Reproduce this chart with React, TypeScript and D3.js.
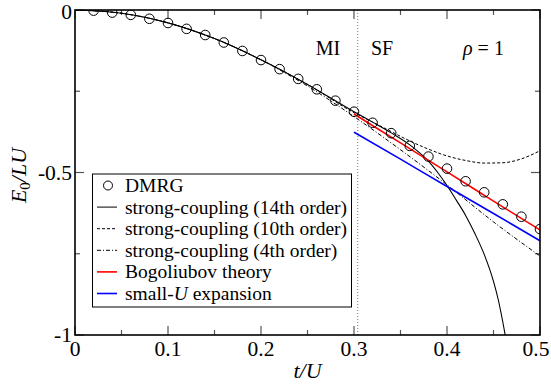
import React from "react";
import * as d3 from "d3";

// DMRG data (t/U, E0/LU)
const dmrgT = [0.02,0.04,0.06,0.08,0.10,0.12,0.14,0.16,0.18,0.20,0.22,0.24,0.26,0.28,0.30,0.32,0.34,0.36,0.38,0.40,0.42,0.44,0.46,0.48,0.50];
const dmrgE = [-0.002,-0.008,-0.015,-0.027,-0.040,-0.058,-0.077,-0.100,-0.126,-0.154,-0.182,-0.212,-0.244,-0.279,-0.313,-0.347,-0.379,-0.418,-0.451,-0.488,-0.527,-0.561,-0.598,-0.636,-0.674];

// strong-coupling 14th order
const sc14T = [0,0.05,0.10,0.15,0.20,0.25,0.30,0.32,0.34,0.36,0.37,0.38,0.39,0.40,0.41,0.42,0.43,0.44,0.45,0.455,0.46,0.465];
const sc14E = [0,-0.0099,-0.0396,-0.088,-0.153,-0.229,-0.313,-0.345,-0.378,-0.415,-0.438,-0.465,-0.5,-0.54,-0.585,-0.632,-0.688,-0.752,-0.835,-0.89,-0.96,-1.04];

// strong-coupling 10th order
const sc10T = [0,0.05,0.10,0.15,0.20,0.25,0.30,0.32,0.34,0.36,0.38,0.40,0.42,0.44,0.46,0.48,0.50];
const sc10E = [0,-0.0099,-0.0396,-0.088,-0.153,-0.229,-0.316,-0.345,-0.374,-0.403,-0.428,-0.449,-0.463,-0.471,-0.470,-0.458,-0.433];

// strong-coupling 4th order
const sc4T = [0,0.05,0.10,0.15,0.20,0.25,0.30,0.35,0.40,0.45,0.50];
const sc4E = [0,-0.0100,-0.0396,-0.088,-0.1536,-0.234,-0.328,-0.430,-0.538,-0.652,-0.757];

// Bogoliubov theory
const bogT = [0.30,0.35,0.40,0.45,0.50];
const bogE = [-0.320,-0.409,-0.498,-0.588,-0.677];

// small-U expansion
const smallUT = [0.30,0.35,0.40,0.45,0.50];
const smallUE = [-0.376,-0.459,-0.543,-0.626,-0.710];

const xTicksMajor = [0, 0.1, 0.2, 0.3, 0.4, 0.5];
const xTicksMinor = [0.05, 0.15, 0.25, 0.35, 0.45];
const yTicksMajor = [0, -0.5, -1];
const yTicksMinor = [-0.25, -0.75];
const xTickLabels = ["0", "0.1", "0.2", "0.3", "0.4", "0.5"];
const yTickLabels = ["0", "-0.5", "-1"];
const transitionT = 0.304;

const W = 551, H = 388;
const L = 75, R = 540, T = 10, B = 335;
const FONT = "'Liberation Serif', 'Times New Roman', 'DejaVu Serif', serif";

export default function App() {
  const x = d3.scaleLinear().domain([0, 0.5]).range([L, R]);
  const y = d3.scaleLinear().domain([0, -1]).range([T, B]);
  const mk = (ts: number[], es: number[]) =>
    d3.line<number>().x((_, i) => x(ts[i])).y((_, i) => y(es[i])).curve(d3.curveMonotoneX)(ts) || "";
  const majLen = 9, minLen = 5;
  const tickColor = "#555";
  const ts = { fontFamily: FONT };

  const legendItems = [
    { label: "DMRG", type: "circle" },
    { label: "strong-coupling (14th order)", type: "line", stroke: "#000", dash: "" },
    { label: "strong-coupling (10th order)", type: "line", stroke: "#000", dash: "3,2" },
    { label: "strong-coupling (4th order)", type: "line", stroke: "#000", dash: "4,2,1,2" },
    { label: "Bogoliubov theory", type: "line", stroke: "#ff0000", dash: "", w: 1.6 },
    { label: "small-U expansion", type: "line", stroke: "#0000ff", dash: "", w: 1.6 },
  ];
  const legX = 92.5, legY = 174, legW = 259, legH = 133;
  const rowY0 = 185.5, rowStep = 21.6;

  return (
    <svg width={W} height={H} style={{ position: "absolute", left: 0, top: 0, background: "#fff", fontFamily: FONT }}>
      <defs>
        <clipPath id="plot">
          <rect x={L} y={T} width={R - L} height={B - T} />
        </clipPath>
      </defs>
      <rect width={W} height={H} fill="#fff" />

      {/* ticks */}
      {xTicksMajor.map((t, i) => (
        <g key={"xM" + i}>
          <line x1={x(t)} x2={x(t)} y1={B} y2={B - majLen} stroke={tickColor} strokeWidth={1.2} />
          <line x1={x(t)} x2={x(t)} y1={T} y2={T + majLen} stroke={tickColor} strokeWidth={1.2} />
        </g>
      ))}
      {xTicksMinor.map((t, i) => (
        <g key={"xm" + i}>
          <line x1={x(t)} x2={x(t)} y1={B} y2={B - minLen} stroke={tickColor} strokeWidth={1.2} />
          <line x1={x(t)} x2={x(t)} y1={T} y2={T + minLen} stroke={tickColor} strokeWidth={1.2} />
        </g>
      ))}
      {yTicksMajor.map((v, i) => (
        <g key={"yM" + i}>
          <line x1={L} x2={L + majLen} y1={y(v)} y2={y(v)} stroke={tickColor} strokeWidth={1.2} />
          <line x1={R} x2={R - majLen} y1={y(v)} y2={y(v)} stroke={tickColor} strokeWidth={1.2} />
        </g>
      ))}
      {yTicksMinor.map((v, i) => (
        <g key={"ym" + i}>
          <line x1={L} x2={L + minLen} y1={y(v)} y2={y(v)} stroke={tickColor} strokeWidth={1.2} />
          <line x1={R} x2={R - minLen} y1={y(v)} y2={y(v)} stroke={tickColor} strokeWidth={1.2} />
        </g>
      ))}

      {/* transition dotted line */}
      <line x1={x(transitionT)} x2={x(transitionT)} y1={T} y2={B} stroke="#777" strokeWidth={1} strokeDasharray="1,2" />

      {/* curves */}
      <g clipPath="url(#plot)" fill="none">
        <path d={mk(sc4T, sc4E)} stroke="#000" strokeWidth={1} strokeDasharray="4,2,1,2" />
        <path d={mk(sc10T, sc10E)} stroke="#000" strokeWidth={1} strokeDasharray="3,2" />
        <path d={mk(sc14T, sc14E)} stroke="#000" strokeWidth={1.1} />
        <path d={mk(smallUT, smallUE)} stroke="#0000ff" strokeWidth={1.6} />
        <path d={mk(bogT, bogE)} stroke="#ff0000" strokeWidth={1.6} />
        {dmrgT.map((t, i) => (
          <circle key={i} cx={x(t)} cy={y(dmrgE[i])} r={4.8} fill="none" stroke="#000" strokeWidth={1} />
        ))}
      </g>

      {/* frame */}
      <rect x={L} y={T} width={R - L} height={B - T} fill="none" stroke="#000" strokeWidth={1.6} />

      {/* tick labels */}
      {xTicksMajor.map((t, i) => (
        <text key={"xl" + i} style={ts} x={i === xTicksMajor.length - 1 ? x(t) - 4 : x(t)} y={356} fontSize={21.5} textAnchor="middle">{xTickLabels[i]}</text>
      ))}
      {yTicksMajor.map((v, i) => (
        <text key={"yl" + i} style={ts} x={72} y={i === 0 ? y(v) + 8.5 : y(v) + 7} fontSize={21.5} textAnchor="end">{yTickLabels[i]}</text>
      ))}

      {/* axis labels */}
      <text style={ts} x={307.5} y={378} fontSize={22} textAnchor="middle" fontStyle="italic">t/U</text>
      <text style={ts} transform={`translate(26,${(T + B) / 2 + 3}) rotate(-90)`} fontSize={22} textAnchor="middle">
        <tspan fontStyle="italic">E</tspan>
        <tspan fontSize={15} dy={4}>0</tspan>
        <tspan dy={-4} fontStyle="italic">/LU</tspan>
      </text>

      {/* annotations */}
      <text style={ts} x={328} y={55} fontSize={20} textAnchor="middle">MI</text>
      <text style={ts} x={382} y={55} fontSize={20} textAnchor="middle">SF</text>
      <text style={ts} x={463} y={55} fontSize={20}>
        <tspan fontStyle="italic">ρ</tspan>
        <tspan> = 1</tspan>
      </text>

      {/* legend */}
      <rect x={legX} y={legY} width={legW} height={legH} fill="#fff" stroke="#000" strokeWidth={1} />
      {legendItems.map((it, i) => {
        const cy = rowY0 + i * rowStep;
        return (
          <g key={"lg" + i}>
            {it.type === "circle" ? (
              <circle cx={108} cy={cy} r={4.5} fill="none" stroke="#000" strokeWidth={1} />
            ) : (
              <line x1={97} x2={117} y1={cy} y2={cy} stroke={it.stroke} strokeWidth={it.w || 1} strokeDasharray={it.dash || undefined} />
            )}
            <text style={ts} x={125} y={cy + 6.5} fontSize={19.5}>
              {it.label === "small-U expansion" ? (
                <>
                  <tspan>small-</tspan>
                  <tspan fontStyle="italic">U</tspan>
                  <tspan> expansion</tspan>
                </>
              ) : (
                it.label
              )}
            </text>
          </g>
        );
      })}
    </svg>
  );
}
